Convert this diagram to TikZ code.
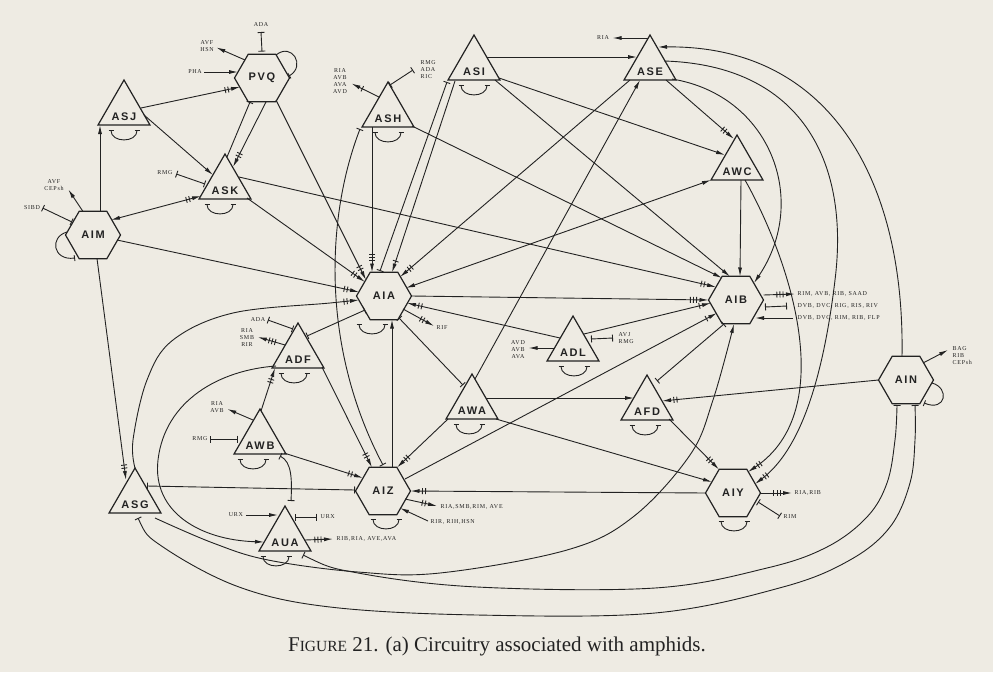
\documentclass[tikz,border=0pt]{standalone}
\usepackage{fontspec}
\usetikzlibrary{shapes.geometric,arrows.meta,calc}
\newfontfamily\nodefont[LetterSpace=15]{Liberation Sans}
\newfontfamily\smallfont[LetterSpace=12]{Liberation Serif}
\newfontfamily\capfont{Liberation Serif}
\definecolor{paper}{RGB}{238,235,227}
\definecolor{ink}{RGB}{34,34,34}
\tikzset{
  hexa/.style={draw=ink, line width=1.2pt, regular polygon, regular polygon sides=6, minimum size=55pt, inner sep=0pt},
  tri/.style={draw=ink, line width=1.2pt, regular polygon, regular polygon sides=3, minimum size=60pt, inner sep=0pt},
  nl/.style={font=\nodefont\bfseries\fontsize{11}{12}\selectfont, text=ink, inner sep=0pt},
  sl/.style={font=\smallfont\fontsize{6}{7}\selectfont, text=ink, inner sep=0.5pt, align=center},
  cn/.style={draw=ink, line width=0.9pt},
  a0/.style={cn,-{Latex[length=9pt,width=4pt]}},
  a1/.style={cn,-{Bar[width=6pt,sep=2.5pt]Latex[length=9pt,width=4pt]}},
  a2/.style={cn,-{Bar[width=6pt,sep=2.2pt]Bar[width=6pt,sep=2.5pt]Latex[length=9pt,width=4pt]}},
  a3/.style={cn,-{Bar[width=6pt,sep=2.2pt]Bar[width=6pt,sep=2.2pt]Bar[width=6pt,sep=2.5pt]Latex[length=9pt,width=4pt]}},
  b0/.style={cn,{Latex[length=9pt,width=4pt]}-{Latex[length=9pt,width=4pt]}},
  b2/.style={cn,{Latex[length=9pt,width=4pt]}-{Bar[width=6pt,sep=2.2pt]Bar[width=6pt,sep=2.5pt]Latex[length=9pt,width=4pt]}},
  gj/.style={cn,{Bar[width=7pt]}-{Bar[width=7pt]}},
  gjs/.style={cn,{Bar[width=7pt]}-},
  loopbar/.style={cn,-{Bar[width=6pt]}},
  sc/.style={cn,{Bar[width=5pt]}-{Bar[width=5pt]}},
}
\newcommand\gjself[3]{\draw[sc] ($(#1)+(#2-13,#3)$) .. controls ($(#1)+(#2-13,#3+13)$) and ($(#1)+(#2+13,#3+13)$) .. ($(#1)+(#2+13,#3)$);}
\begin{document}
\begin{tikzpicture}[x=1pt,y=-1pt]
\useasboundingbox (0,0) rectangle (993,672);
\fill[paper] (0,0) rectangle (993,672);

% ---------- cells ----------
\node[hexa] (PVQ) at (262,78) {};
\node[hexa] (AIM) at (93,235) {};
\node[hexa] (AIA) at (384,296) {};
\node[hexa] (AIB) at (736,300) {};
\node[hexa] (AIZ) at (383,491) {};
\node[hexa] (AIY) at (733,493) {};
\node[hexa] (AIN) at (906,380) {};
\node[tri] (ASJ) at (124,110) {};
\node[tri] (ASK) at (225,184) {};
\node[tri] (ASH) at (388,112) {};
\node[tri] (ASI) at (474,65) {};
\node[tri] (ASE) at (650,65) {};
\node[tri] (AWC) at (737,165) {};
\node[tri] (ADL) at (573,346) {};
\node[tri] (AWA) at (472,404) {};
\node[tri] (AFD) at (647,405) {};
\node[tri] (ADF) at (298,353) {};
\node[tri] (AWB) at (260,439) {};
\node[tri] (ASG) at (135,498) {};
\node[tri] (AUA) at (285,536) {};

\node[nl] (PVQt) at (PVQ) {PVQ};
\node[nl] (AIMt) at (AIM) {AIM};
\node[nl] (AIAt) at (AIA) {AIA};
\node[nl] (AIBt) at (AIB) {AIB};
\node[nl] (AIZt) at (AIZ) {AIZ};
\node[nl] (AIYt) at (AIY) {AIY};
\node[nl] (AINt) at (AIN) {AIN};
\node[nl] (ASJt) at ($(ASJ)+(0,7)$) {ASJ};
\node[nl] (ASKt) at ($(ASK)+(0,7)$) {ASK};
\node[nl] (ASHt) at ($(ASH)+(0,7)$) {ASH};
\node[nl] (ASIt) at ($(ASI)+(0,7)$) {ASI};
\node[nl] (ASEt) at ($(ASE)+(0,7)$) {ASE};
\node[nl] (AWCt) at ($(AWC)+(0,7)$) {AWC};
\node[nl] (ADLt) at ($(ADL)+(0,7)$) {ADL};
\node[nl] (AWAt) at ($(AWA)+(0,7)$) {AWA};
\node[nl] (AFDt) at ($(AFD)+(0,7)$) {AFD};
\node[nl] (ADFt) at ($(ADF)+(0,7)$) {ADF};
\node[nl] (AWBt) at ($(AWB)+(0,7)$) {AWB};
\node[nl] (ASGt) at ($(ASG)+(0,7)$) {ASG};
\node[nl] (AUAt) at ($(AUA)+(0,7)$) {AUA};

% ---------- small labels ----------
\node[sl] (tADA1) at (261,25) {ADA};
\node[sl] (tAVFHSN) at (207,46.5) {AVF\\HSN};
\node[sl] (tPHA) at (195,72) {PHA};
\node[sl] (tAVFCEP) at (54,185.5) {AVF\\CEPsh};
\node[sl] (tSIBD) at (32,208) {SIBD};
\node[sl] (tRMG1) at (165,173) {RMG};
\node[sl] (tASHout) at (340,81.5) {RIA\\AVB\\AVA\\AVD};
\node[sl,anchor=west,align=left] (tASHgj) at (420,70) {RMG\\ADA\\RIC};
\node[sl] (tRIAse) at (603,38) {RIA};
\node[sl,anchor=west] (tRIF) at (436,328) {RIF};
\node[sl] (tADLout) at (518,350) {AVD\\AVB\\AVA};
\node[sl,anchor=west,align=left] (tADLgj) at (618,338) {AVJ\\RMG};
\node[sl,anchor=west] (tAIBo1) at (797,294) {RIM, AVB, RIB, SAAD};
\node[sl,anchor=west] (tAIBo2) at (797,306) {DVB, DVC, RIG, RIS, RIV};
\node[sl,anchor=west] (tAIBi) at (797,318) {DVB, DVC, RIM, RIB, FLP};
\node[sl,anchor=west,align=left] (tBAG) at (952,356) {BAG\\RIB\\CEPsh};
\node[sl] (tADA2) at (258,320) {ADA};
\node[sl] (tADFout) at (247,338) {RIA\\SMB\\RIR};
\node[sl] (tAWBout) at (217,407) {RIA\\AVB};
\node[sl] (tRMG2) at (200,439) {RMG};
\node[sl] (tURX1) at (236,515) {URX};
\node[sl,anchor=west] (tURX2) at (320,517) {URX};
\node[sl,anchor=west] (tAUAout) at (336,539) {RIB,RIA, AVE,AVA};
\node[sl,anchor=west] (tAIZout) at (440,507) {RIA,SMB,RIM, AVE};
\node[sl,anchor=west] (tAIZin) at (430,522) {RIR, RIH,HSN};
\node[sl,anchor=west] (tAIYout) at (794,493) {RIA,RIB};
\node[sl,anchor=west] (tRIM) at (783,517) {RIM};

% ---------- self junctions ----------
\gjself{ASJ}{0}{20}
\gjself{ASK}{-5}{20}
\gjself{ASH}{0}{20}
\gjself{ASI}{0}{20}
\gjself{ADL}{1}{20}
\gjself{AWA}{-3}{20}
\gjself{AFD}{-2}{20}
\gjself{ADF}{-4}{20}
\gjself{AWB}{-7}{20}
\gjself{AUA}{-9}{20}
\gjself{AIA}{-12}{28}
\gjself{AIZ}{3}{28}
\gjself{AIY}{1}{28}

% ---------- PVQ ----------
\draw[gj] ($(tADA1)+(0,7)$) -- ($(PVQ.north)+(0,-2)$);
\draw[a0] ($(PVQ)+(-17,-18)$) -- ($(tAVFHSN.east)+(2,1)$);
\draw[a0] ($(tPHA.east)+(2,0)$) -- ($(PVQ)+(-24,-6)$);
\draw[loopbar] ($(PVQ)+(14,-23)$) .. controls ($(PVQ)+(30,-36)$) and ($(PVQ)+(44,-12)$) .. ($(PVQ)+(27,-2)$);
\draw[a2] ($(ASJ)+(17,-2)$) -- ($(PVQ)+(-22,9)$);
\draw[a2] ($(PVQ)+(4,24)$) -- ($(ASK)+(8,-17)$);
\draw[gjs] ($(PVQ)+(-12,24)$) -- ($(ASK)+(2,-27)$);
\draw[a2] ($(PVQ)+(14,22)$) -- ($(AIA)+(-18,-16)$);

% ---------- AIM ----------
\draw[a0] ($(AIM)+(7,-23.5)$) -- ($(ASJ)+(-24,15)$);
\draw[a0] ($(ASJ)+(20,5)$) -- ($(ASK)+(-12,-9)$);
\draw[b2] ($(AIM)+(18,-15)$) -- ($(ASK)+(-24,12)$);
\draw[gj] ($(tRMG1.east)+(3,1)$) -- ($(ASK)+(-20,0)$);
\draw[a0] ($(AIM)+(-10,-23.5)$) -- ($(tAVFCEP.east)+(4,4)$);
\draw[gj] ($(tSIBD.east)+(2,0)$) -- ($(AIM)+(-21,-13)$);
\draw[loopbar] ($(AIM)+(-26,-3)$) .. controls ($(AIM)+(-44,2)$) and ($(AIM)+(-40,26)$) .. ($(AIM)+(-18,23)$);
\draw[a2] ($(AIM)+(24,5)$) -- ($(AIA)+(-25,-4)$);
\draw[a2] ($(AIM)+(4,23.5)$) -- ($(ASG)+(-9,-18)$);

% ---------- ASK ----------
\draw[a2] ($(ASK)+(22,14)$) -- ($(AIA)+(-19,-14)$);
\draw[a2] ($(ASK)+(14,-7)$) -- ($(AIB)+(-20,-13)$);

% ---------- ASH ----------
\draw[a1] ($(ASH)+(-9,-15)$) -- ($(tASHout.east)+(4,2)$);
\draw[gj] ($(ASH)+(2,-27)$) -- ($(tASHgj.west)+(-7,0)$);
\draw[a3] ($(ASH)+(-16,15)$) -- ($(AIA)+(-12,-23.5)$);
\draw[gj] ($(ASH)+(-28,17)$) .. controls (325,220) and (322,350) .. ($(AIZ)+(0,-26)$);
\draw[a0] ($(ASH)+(24,14)$) -- ($(AIB)+(-14,-22)$);

% ---------- ASI ----------
\draw[a0] ($(ASI)+(13,-8)$) -- ($(ASE)+(-13,-8)$);
\draw[a0] ($(ASI)+(25,13)$) -- ($(AWC)+(-12,-10)$);
\draw[a0] ($(ASI)+(21,15)$) -- ($(AIB)+(-6,-23.5)$);
\draw[gj] ($(ASI)+(-27,17)$) -- ($(AIA)+(-4,-25)$);
\draw[a1] ($(ASI)+(-19,16)$) -- ($(AIA)+(8,-23.5)$);

% ---------- ASE ----------
\draw[a0] ($(ASE)+(-2,-27)$) -- ($(tRIAse.east)+(3,0)$);
\draw[a0] ($(AIN)+(-4,-23.5)$) .. controls (905,180) and (830,45) .. ($(ASE)+(8,-18)$);
\draw[a0] ($(ASE)+(22,14)$) .. controls (770,95) and (810,200) .. ($(AIB)+(18,-17)$);
\draw[a2] ($(ASE)+(14,-4)$) .. controls (800,65) and (850,160) .. (835,280) .. controls (823,380) and (800,450) .. ($(AIY)+(22,-9)$);
\draw[a2] ($(ASE)+(16,15)$) -- ($(AWC)+(-3,-26)$);
\draw[a2] ($(ASE)+(-20,15)$) -- ($(AIA)+(16,-19)$);
\draw[a0] ($(AWA)+(3,-25)$) -- ($(ASE)+(-10,15)$);

% ---------- AWC ----------
\draw[b0] ($(AIA)+(22,-8)$) -- ($(AWC)+(-26,15)$);
\draw[a0] ($(AWC)+(4,15)$) -- ($(AIB)+(4,-23.5)$);
\draw[a2] ($(AWC)+(8,15)$) .. controls (790,260) and (840,410) .. ($(AIY)+(15,-21)$);

% ---------- AIA ----------
\draw[a3] ($(AIA)+(27.5,0)$) -- ($(AIB)+(-27.5,0)$);
\draw[a2] ($(AIA)+(19,13)$) -- ($(tRIF.west)+(-2,-2)$);
\draw[gj] ($(AIA)+(15,22)$) -- ($(AWA)+(-9,-19)$);
\draw[a2] ($(ADL)+(-13,-8)$) -- ($(AIA)+(23,7)$);
\draw[a0] ($(AIZ)+(9,-23.5)$) -- ($(AIA)+(8,23.5)$);

% ---------- ADL ----------
\draw[a0] ($(ADL)+(-19,2)$) -- ($(tADLout.east)+(3,-2)$);
\draw[gj] ($(ADL)+(18,-7)$) -- ($(tADLgj.west)+(-5,0)$);
\draw[a1] ($(ADL)+(11,-12)$) -- ($(AIB)+(-25,3)$);

% ---------- AIB ----------
\draw[a3] ($(AIB)+(27.5,-5)$) -- ($(tAIBo1.west)+(-2,0)$);
\draw[gj] ($(AIB)+(29,7)$) -- ($(tAIBo2.west)+(-10,0)$);
\draw[a0] ($(tAIBi.west)+(-4,0)$) -- ($(AIB)+(19,18)$);
\draw[gj] ($(AFD)+(10,-24)$) -- ($(AIB)+(-12,24)$);
\draw[a1] ($(AIZ)+(22,-12)$) -- ($(AIB)+(-19,13)$);
\draw[a0] plot[smooth, tension=0.6] coordinates {($(ASG)+(20,20)$) (213,543) (268,560) (358,572) (440,573) (567,550) (633,517) (690,455) (713,400) ($(AIB)+(-2,24)$)};

% ---------- AFD ----------
\draw[a0] ($(AWA)+(14,-6)$) -- ($(AFD)+(-13,-7)$);
\draw[a2] ($(AIN)+(-27.5,0)$) -- ($(AFD)+(15,-4)$);
\draw[a2] ($(AFD)+(22,14)$) -- ($(AIY)+(-14,-23.5)$);

% ---------- AWA ----------
\draw[a2] ($(AWA)+(-24,15)$) -- ($(AIZ)+(14,-23.5)$);
\draw[a0] ($(AWA)+(24,15)$) -- ($(AIY)+(-21,-11)$);

% ---------- AIY ----------
\draw[a2] ($(AIY)+(-27.5,0)$) -- ($(AIZ)+(27.5,0)$);
\draw[a3] ($(AIY)+(27.5,0)$) -- ($(tAIYout.west)+(-2,0)$);
\draw[gj] ($(AIY)+(25,9)$) -- ($(tRIM.west)+(-3,-1)$);

% ---------- AIZ ----------
\draw[a2] ($(ADF)+(24,14)$) -- ($(AIZ)+(-11,-23.5)$);
\draw[gj] ($(ASG)+(12,-12)$) -- ($(AIZ)+(-28,-1)$);
\draw[a2] ($(AWB)+(24,14)$) -- ($(AIZ)+(-20,-13)$);
\draw[a2] ($(AIZ)+(22,8)$) -- ($(tAIZout.west)+(-3,-1)$);
\draw[a0] ($(tAIZin.west)+(-2,-1)$) -- ($(AIZ)+(17,17)$);

% ---------- ADF ----------
\draw[gj] ($(tADA2.east)+(2,0)$) -- ($(ADF)+(-5,-24)$);
\draw[a3] ($(ADF)+(-13,-8)$) -- ($(tADFout.east)+(3,-1)$);
\draw[gj] ($(ADF)+(9,-17)$) -- ($(AIA)+(-19,14)$);
\draw[a2] ($(AWB)+(1,-28)$) -- ($(ADF)+(-23,15)$);
\draw[a0] ($(ADF)+(-22,13)$) .. controls (220,370) and (165,400) .. (158,460) .. controls (152,512) and (200,540) .. ($(AUA)+(-21,6)$);

% ---------- AWB ----------
\draw[a0] ($(AWB)+(-7,-19)$) -- ($(tAWBout.east)+(3,2)$);
\draw[gj] ($(tRMG2.east)+(2,0)$) -- ($(AWB)+(-22,0)$);
\draw[gj] ($(AWB)+(20,17)$) .. controls (292,462) and (292,480) .. ($(AUA)+(6,-35)$);

% ---------- AUA ----------
\draw[a0] ($(tURX1.east)+(2,0)$) -- ($(AUA)+(-7,-21)$);
\draw[gj] ($(AUA)+(10,-19)$) -- ($(tURX2.west)+(-3,0)$);
\draw[a3] ($(AUA)+(20,4)$) -- ($(tAUAout.west)+(-3,0)$);
\draw[gj] plot[smooth, tension=0.6] coordinates {($(AUA)+(18,19)$) (358,573) (477,587) (655,588) (767,568) (827,547) (867,517) (887,483) (895,440) ($(AIN)+(-9,25)$)};

% ---------- ASG ----------
\draw[gj] plot[smooth, tension=0.6] coordinates {($(ASG)+(3,20)$) (163,547) (239,587) (330,607) (477,615) (655,613) (783,587) (850,560) (890,527) (910,483) (915,440) ($(AIN)+(9,25)$)};
\draw[a2] plot[smooth, tension=0.6] coordinates {($(ASG)+(0,-30)$) (133,440) (147,380) (173,340) (233,313) (330,303) ($(AIA)+(-25,4)$)};

% ---------- AIN ----------
\draw[a0] ($(AIN)+(17,-17)$) -- ($(tBAG.west)+(-4,-6)$);
\draw[loopbar] ($(AIN)+(26,3)$) .. controls ($(AIN)+(44,8)$) and ($(AIN)+(40,32)$) .. ($(AIN)+(18,23)$);

% ---------- caption ----------
\node[font=\capfont\fontsize{21}{24}\selectfont, text=ink, inner sep=0pt] (cap) at (497,646) {F{\fontsize{15.5}{17}\selectfont IGURE} 21. (a) Circuitry associated with amphids.};
\end{tikzpicture}
\end{document}
